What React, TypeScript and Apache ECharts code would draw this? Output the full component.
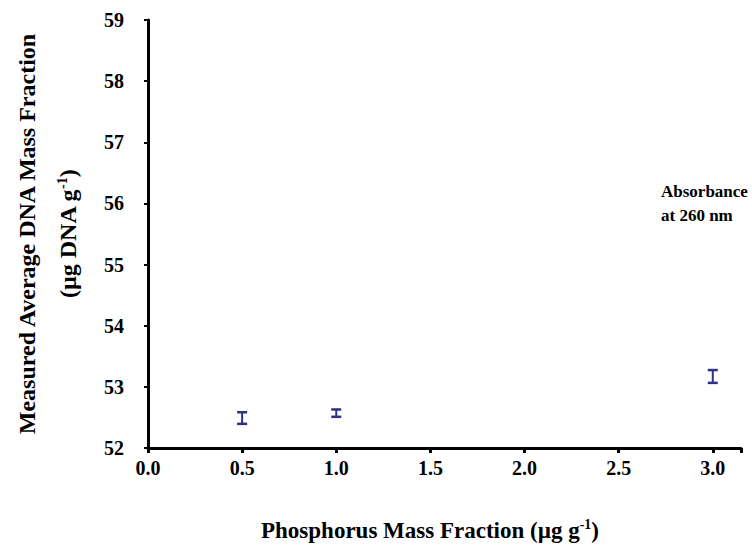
import React, { useEffect, useRef } from "react";
import * as echarts from "echarts";

const xValues = [0.5, 1.0, 3.0];
const meanValues = [52.49, 52.57, 53.17];
const errorValues = [0.095, 0.06, 0.105];
const yTitle1 = "Measured Average DNA Mass Fraction";
const yTitle2 = "(µg DNA g{sup|-1})";
const xTitle = "Phosphorus Mass Fraction (µg g{sup|-1})";
const noteLines = ["Absorbance", "at 260 nm"];

const FONT = "'Liberation Serif', 'Times New Roman', serif";
const BAR_COLOR = "#2e3083";

export default function App() {
  const ref = useRef<HTMLDivElement>(null);
  useEffect(() => {
    document.body.style.margin = "0";
    if (!ref.current) return;
    const chart = echarts.init(ref.current, null, { renderer: "svg" });
    const data = xValues.map((x, i) => [x, meanValues[i] - errorValues[i], meanValues[i] + errorValues[i]]);
    const sup = { fontSize: 14, fontWeight: "bold", fontFamily: FONT, verticalAlign: "top", padding: [0, 0, 12, 0] };
    chart.setOption({
      animation: false,
      backgroundColor: "#ffffff",
      grid: { left: 148, right: 11, top: 20, bottom: 98, containLabel: false },
      xAxis: {
        type: "value",
        min: 0,
        max: 3.15,
        interval: 0.5,
        axisLine: { show: true, lineStyle: { color: "#000", width: 3 } },
        axisTick: { show: true, inside: false, length: 5, lineStyle: { color: "#000", width: 3 } },
        splitLine: { show: false },
        axisLabel: {
          margin: 10,
          color: "#000",
          fontFamily: FONT,
          fontWeight: "bold",
          fontSize: 20,
          formatter: (v: number) => (v > 3.01 ? "" : v.toFixed(1)),
        },
      },
      yAxis: {
        type: "value",
        min: 52,
        max: 59,
        interval: 1,
        axisLine: { show: true, lineStyle: { color: "#000", width: 3 } },
        axisTick: { show: true, inside: false, length: 4, lineStyle: { color: "#000", width: 2 } },
        splitLine: { show: false },
        axisLabel: {
          margin: 24,
          color: "#000",
          fontFamily: FONT,
          fontWeight: "bold",
          fontSize: 20,
        },
      },
      graphic: [
        {
          type: "text",
          x: 27,
          y: 234,
          rotation: Math.PI / 2,
          style: {
            text: yTitle1,
            fontFamily: FONT,
            fontWeight: "bold",
            fontSize: 24,
            fill: "#000",
            align: "center",
            verticalAlign: "middle",
          },
        },
        {
          type: "text",
          x: 68,
          y: 234,
          rotation: Math.PI / 2,
          style: {
            text: yTitle2,
            fontFamily: FONT,
            fontWeight: "bold",
            fontSize: 24,
            fill: "#000",
            align: "center",
            verticalAlign: "middle",
            rich: { sup: { ...sup, fill: "#000" } },
          },
        },
        {
          type: "text",
          x: 430,
          y: 530,
          style: {
            text: xTitle,
            fontFamily: FONT,
            fontWeight: "bold",
            fontSize: 23,
            fill: "#000",
            align: "center",
            verticalAlign: "middle",
            rich: { sup: { ...sup, fill: "#000" } },
          },
        },
        {
          type: "text",
          x: 661,
          y: 203,
          style: {
            text: noteLines.join("\n"),
            fontFamily: FONT,
            fontWeight: "bold",
            fontSize: 17,
            lineHeight: 24,
            fill: "#000",
            align: "left",
            verticalAlign: "middle",
          },
        },
      ],
      series: [
        {
          type: "custom",
          data,
          renderItem: (params: any, api: any) => {
            const x = api.value(0);
            const lo = api.value(1);
            const hi = api.value(2);
            const top = api.coord([x, hi]);
            const bot = api.coord([x, lo]);
            const hw = 5;
            const st = { stroke: BAR_COLOR, lineWidth: 2 };
            return {
              type: "group",
              children: [
                { type: "line", shape: { x1: top[0], y1: top[1], x2: bot[0], y2: bot[1] }, style: st },
                { type: "line", shape: { x1: top[0] - hw, y1: top[1], x2: top[0] + hw, y2: top[1] }, style: { ...st, lineWidth: 2.5 } },
                { type: "line", shape: { x1: bot[0] - hw, y1: bot[1], x2: bot[0] + hw, y2: bot[1] }, style: { ...st, lineWidth: 2.5 } },
              ],
            };
          },
        },
      ],
    });
    return () => chart.dispose();
  }, []);
  return <div ref={ref} style={{ width: 752, height: 546 }} />;
}
